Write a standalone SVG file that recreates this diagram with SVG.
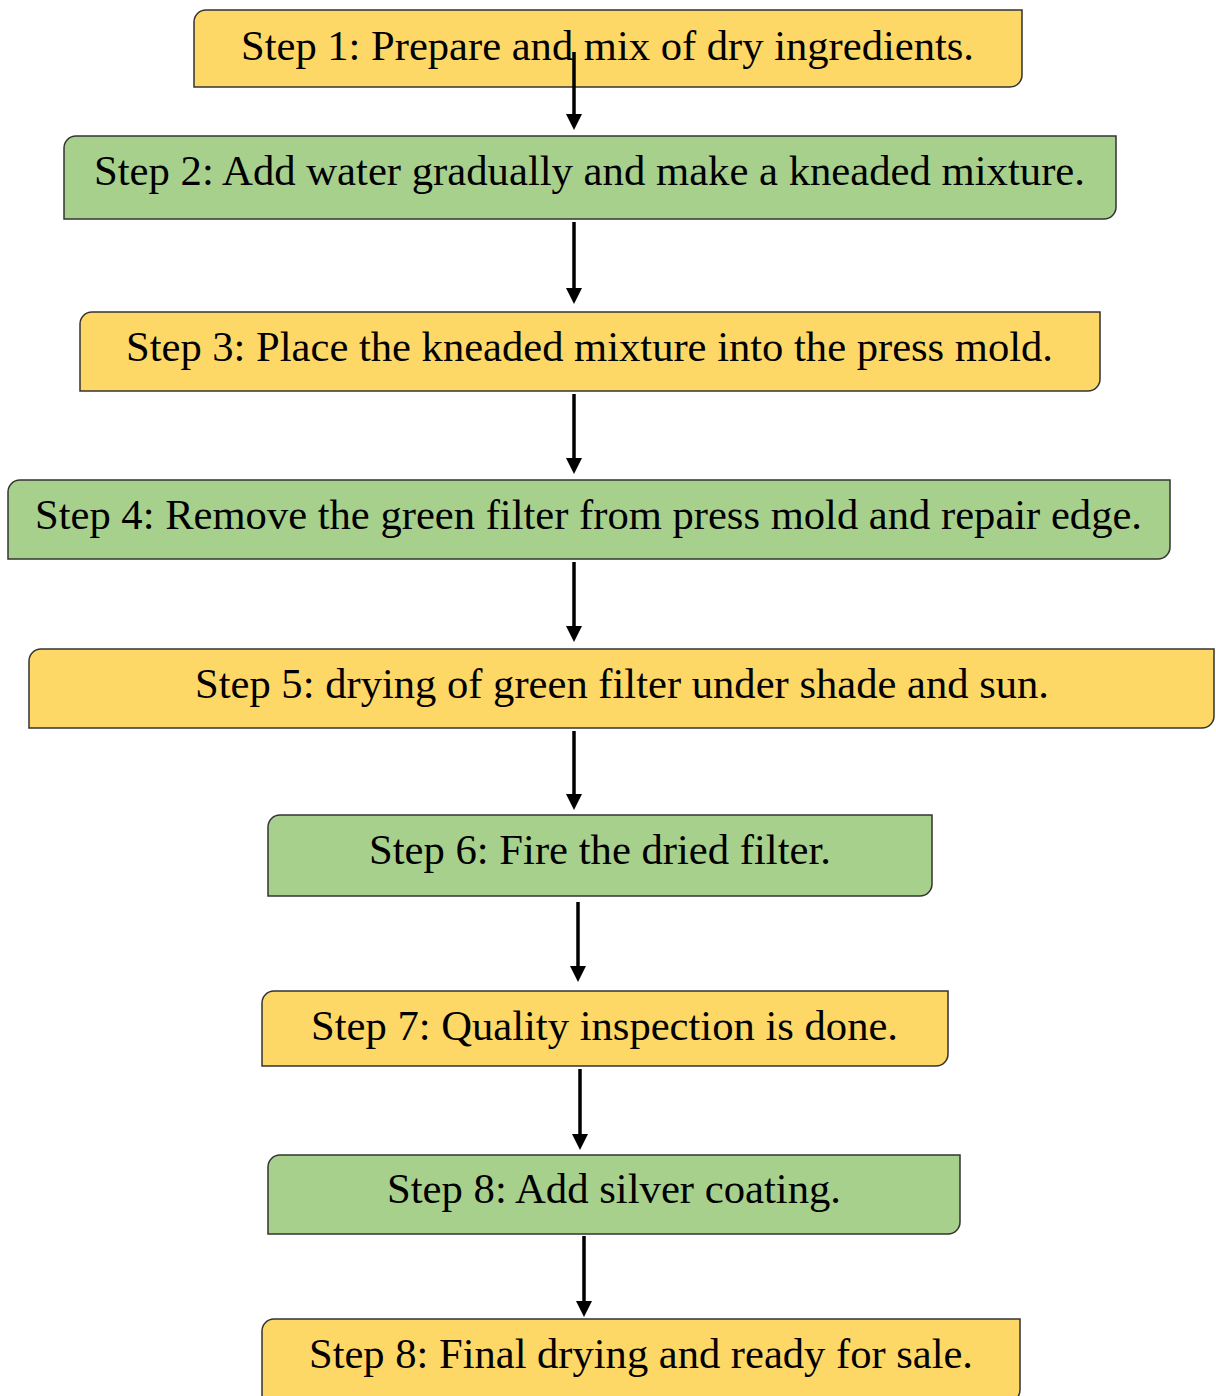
<svg xmlns="http://www.w3.org/2000/svg" width="1216" height="1396" viewBox="0 0 1216 1396">
<defs>
<style>
.y{fill:#FED866;stroke:#333;stroke-width:1.5}
.g{fill:#A8D08D;stroke:#333;stroke-width:1.5}
.t{font-family:"Liberation Serif","Times New Roman",serif;font-size:42px;fill:#000;text-anchor:middle}
.c{stroke:#000;stroke-width:3.5;fill:none;marker-end:url(#ah)}
</style>
<marker id="ah" viewBox="0 0 16 16" refX="6" refY="8" markerWidth="16" markerHeight="16" markerUnits="userSpaceOnUse" orient="auto"><path d="M0,0 L16,8 L0,16 Z" fill="#000"/></marker>
</defs>
<rect width="1216" height="1396" fill="#fff"/>
<g id="n1"><path class="y" d="M206,10 H1022 V75 A12,12 0 0 1 1010,87 H194 V22 A12,12 0 0 1 206,10 Z"/><text class="t" x="607.5" y="60" textLength="733" lengthAdjust="spacingAndGlyphs">Step 1: Prepare and mix of dry ingredients.</text></g>
<g id="n2"><path class="g" d="M76,136 H1116 V207 A12,12 0 0 1 1104,219 H64 V148 A12,12 0 0 1 76,136 Z"/><text class="t" x="589.5" y="185" textLength="991" lengthAdjust="spacingAndGlyphs">Step 2: Add water gradually and make a kneaded mixture.</text></g>
<g id="n3"><path class="y" d="M92,312 H1100 V379 A12,12 0 0 1 1088,391 H80 V324 A12,12 0 0 1 92,312 Z"/><text class="t" x="589.5" y="361" textLength="927" lengthAdjust="spacingAndGlyphs">Step 3: Place the kneaded mixture into the press mold.</text></g>
<g id="n4"><path class="g" d="M20,480 H1170 V547 A12,12 0 0 1 1158,559 H8 V492 A12,12 0 0 1 20,480 Z"/><text class="t" x="588.5" y="529" textLength="1107" lengthAdjust="spacingAndGlyphs">Step 4: Remove the green filter from press mold and repair edge.</text></g>
<g id="n5"><path class="y" d="M41,649 H1214 V716 A12,12 0 0 1 1202,728 H29 V661 A12,12 0 0 1 41,649 Z"/><text class="t" x="622" y="698" textLength="854" lengthAdjust="spacingAndGlyphs">Step 5: drying of green filter under shade and sun.</text></g>
<g id="n6"><path class="g" d="M280,815 H932 V884 A12,12 0 0 1 920,896 H268 V827 A12,12 0 0 1 280,815 Z"/><text class="t" x="600" y="864" textLength="462" lengthAdjust="spacingAndGlyphs">Step 6: Fire the dried filter.</text></g>
<g id="n7"><path class="y" d="M274,991 H948 V1054 A12,12 0 0 1 936,1066 H262 V1003 A12,12 0 0 1 274,991 Z"/><text class="t" x="604.5" y="1040" textLength="587" lengthAdjust="spacingAndGlyphs">Step 7: Quality inspection is done.</text></g>
<g id="n8"><path class="g" d="M280,1155 H960 V1222 A12,12 0 0 1 948,1234 H268 V1167 A12,12 0 0 1 280,1155 Z"/><text class="t" x="614" y="1203" textLength="454" lengthAdjust="spacingAndGlyphs">Step 8: Add silver coating.</text></g>
<g id="n9"><path class="y" d="M274,1319 H1020 V1390 A12,12 0 0 1 1008,1402 H262 V1331 A12,12 0 0 1 274,1319 Z"/><text class="t" x="641" y="1368" textLength="664" lengthAdjust="spacingAndGlyphs">Step 8: Final drying and ready for sale.</text></g>
<g id="connectors">
<line class="c" x1="574" y1="52" x2="574" y2="120"/>
<line class="c" x1="574" y1="222" x2="574" y2="294"/>
<line class="c" x1="574" y1="394" x2="574" y2="464"/>
<line class="c" x1="574" y1="562" x2="574" y2="632"/>
<line class="c" x1="574" y1="731" x2="574" y2="800"/>
<line class="c" x1="578" y1="902" x2="578" y2="972"/>
<line class="c" x1="580" y1="1069" x2="580" y2="1140"/>
<line class="c" x1="584" y1="1236" x2="584" y2="1307"/>
</g>
</svg>
